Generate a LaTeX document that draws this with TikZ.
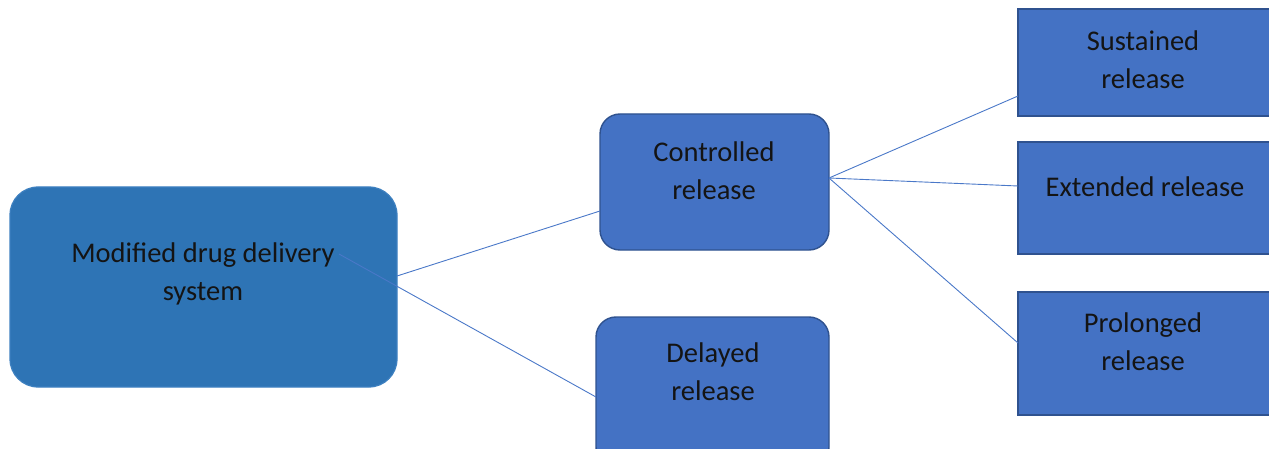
\documentclass[tikz,border=0pt]{standalone}
\usepackage{fontspec}
\setmainfont{Carlito}
\definecolor{mainfill}{HTML}{2E74B5}
\definecolor{mainedge}{HTML}{3D80C0}
\definecolor{boxfill}{HTML}{4472C4}
\definecolor{boxedge}{HTML}{2F528F}
\definecolor{linkcol}{HTML}{4A78C8}
\definecolor{txt}{HTML}{141414}
\begin{document}
\begin{tikzpicture}[x=1pt,y=-1pt,
  every node/.style={inner sep=0pt, outer sep=0pt},
  mainbox/.style={draw=mainedge, fill=mainfill, line width=1.2pt, rounded corners=28pt},
  roundbox/.style={draw=boxedge, fill=boxfill, line width=1.4pt, rounded corners=20pt},
  sqbox/.style={draw=boxedge, fill=boxfill, line width=1.4pt},
  lbl/.style={text=txt, align=center, font=\fontsize{28.5}{38}\selectfont},
  link/.style={draw=linkcol, line width=0.9pt}]
\useasboundingbox (0,0) rectangle (1269,449);
% boxes
\node[mainbox, minimum width=387pt, minimum height=200pt] (mds) at (203.5,287) {};
\node[roundbox, minimum width=229pt, minimum height=136pt] (cr) at (714.5,182) {};
\node[roundbox, minimum width=233pt, minimum height=150pt] (dr) at (712.5,392) {};
\node[sqbox, minimum width=280pt, minimum height=107pt] (sr) at (1158,62.5) {};
\node[sqbox, minimum width=280pt, minimum height=112pt] (er) at (1158,198) {};
\node[sqbox, minimum width=280pt, minimum height=123pt] (pr) at (1158,353.5) {};
% connectors
\coordinate (mdsA) at (397,276);
\coordinate (mdsB) at (339,254);
\coordinate (crA) at (600,211);
\coordinate (drA) at (596,397);
\coordinate (crR) at (829,178);
\coordinate (srA) at (1018,96);
\coordinate (erA) at (1018,186);
\coordinate (prA) at (1018,343);
\draw[link] (mdsA) -- (crA);
\draw[link] (mdsB) -- (drA);
\draw[link] (crR) -- (srA);
\draw[link] (crR) -- (erA);
\draw[link] (crR) -- (prA);
% texts
\node[lbl] (mdsT) at (203,274) {Modified drug delivery\\system};
\node[lbl] (crT) at (714,171) {Controlled\\release};
\node[lbl] (drT) at (713,372) {Delayed\\release};
\node[lbl] (srT) at (1143,60) {Sustained\\release};
\node[lbl] (erT) at (1145,187) {Extended release};
\node[lbl] (prT) at (1143,342) {Prolonged\\release};
\end{tikzpicture}
\end{document}
